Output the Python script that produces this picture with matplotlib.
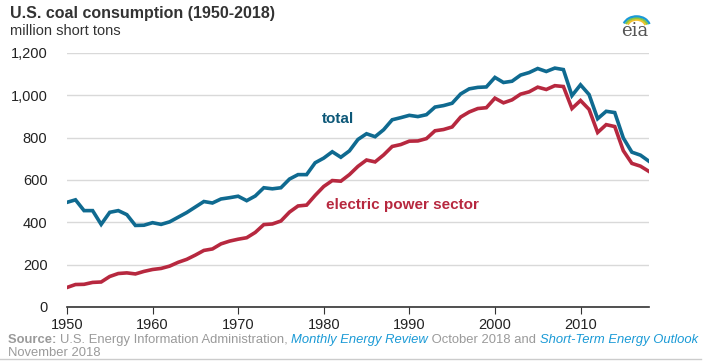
import matplotlib
import matplotlib.pyplot as plt
from matplotlib.patches import Arc

matplotlib.use("Agg")
plt.rcParams["font.family"] = ["Liberation Sans", "DejaVu Sans"]

years = list(range(1950, 2019))

total = [494, 506, 455, 455, 390, 447, 455, 436, 385, 386,
         398, 390, 402, 424, 446, 472, 498, 491, 510, 516,
         523, 502, 524, 563, 558, 563, 604, 625, 625, 681,
         703, 733, 707, 737, 791, 818, 804, 837, 884, 894,
         905, 899, 908, 944, 951, 962, 1006, 1030, 1037, 1039,
         1084, 1060, 1066, 1095, 1107, 1126, 1112, 1128, 1121, 998,
         1049, 1003, 889, 924, 918, 798, 731, 717, 688]

electric = [92, 106, 107, 116, 118, 144, 158, 161, 156, 168,
            177, 182, 193, 211, 225, 245, 267, 274, 298, 311,
            320, 327, 352, 389, 392, 406, 448, 477, 481, 527,
            569, 597, 594, 625, 664, 694, 685, 718, 758, 767,
            783, 784, 795, 832, 838, 850, 897, 921, 937, 941,
            986, 964, 978, 1005, 1016, 1038, 1027, 1045, 1041, 937,
            975, 933, 824, 861, 852, 738, 678, 665, 640]

yticks = [0, 200, 400, 600, 800, 1000, 1200]
xticks = [1950, 1960, 1970, 1980, 1990, 2000, 2010]

blue = "#0f6a90"
red = "#b7283f"
grey = "#9a9a9a"
link = "#1a9ad6"

fig = plt.figure(figsize=(7.12, 3.62), dpi=100)
ax = fig.add_axes([0.094, 0.152, 0.8175, 0.702])

ax.plot(years, total, color=blue, lw=2.6, solid_joinstyle="miter")
ax.plot(years, electric, color=red, lw=2.6, solid_joinstyle="miter")

ax.set_xlim(1950, 2018)
ax.set_ylim(0, 1200)
ax.set_yticks(yticks)
ax.set_yticklabels([f"{v:,}" for v in yticks])
ax.set_xticks(xticks)
ax.grid(axis="y", color="#d9d9d9", lw=1)
ax.set_axisbelow(True)
for s in ["top", "right", "left"]:
    ax.spines[s].set_visible(False)
ax.spines["bottom"].set_color("#333333")
ax.spines["bottom"].set_linewidth(1.2)
ax.tick_params(axis="y", length=0, pad=14, labelsize=10.5, labelcolor="#222222")
ax.tick_params(axis="x", length=5, direction="out", color="#333333",
               labelsize=10.5, labelcolor="#222222", pad=3)

ax.text(1981.7, 890, "total", color="#0d5878", fontsize=11, fontweight="bold",
        ha="center", va="center")
ax.text(1980.3, 480, "electric power sector", color=red, fontsize=11,
        fontweight="bold", ha="left", va="center")

fig.text(0.014, 0.962, "U.S. coal consumption (1950-2018)", fontsize=11.5,
         fontweight="bold", color="#333333", va="center")
fig.text(0.014, 0.914, "million short tons", fontsize=10.5, color="#333333",
         va="center")

# footer: chain the pieces one after another
parts = [("Source: ", grey, "normal", "bold"),
         ("U.S. Energy Information Administration, ", grey, "normal", "normal"),
         ("Monthly Energy Review", link, "italic", "normal"),
         (" October 2018 and ", grey, "normal", "normal"),
         ("Short-Term Energy Outlook", link, "italic", "normal")]
fig.canvas.draw()
renderer = fig.canvas.get_renderer()
x = 0.011
for txt, col, sty, wt in parts:
    t = fig.text(x, 0.060, txt, fontsize=9.4, color=col, style=sty,
                 fontweight=wt, va="center")
    bb = t.get_window_extent(renderer=renderer)
    x += bb.width / fig.bbox.width
fig.text(0.011, 0.026, "November 2018", fontsize=9.4, color=grey, va="center")
fig.add_artist(plt.Line2D([0, 0.985], [0.008, 0.008], color="#cccccc", lw=1,
                          transform=fig.transFigure))

# eia logo
fig.text(0.891, 0.915, "eia", fontsize=13, family="DejaVu Serif",
         color="#555555", ha="center", va="center")
for w, col in [(0.026, "#f2c12e"), (0.032, "#8cc63f"), (0.038, link)]:
    fig.add_artist(Arc((0.894, 0.925), w, w * 712 / 362 * 0.8, theta1=25,
                       theta2=150, color=col, lw=1.6,
                       transform=fig.transFigure))

fig.savefig("out.png", dpi=100)
